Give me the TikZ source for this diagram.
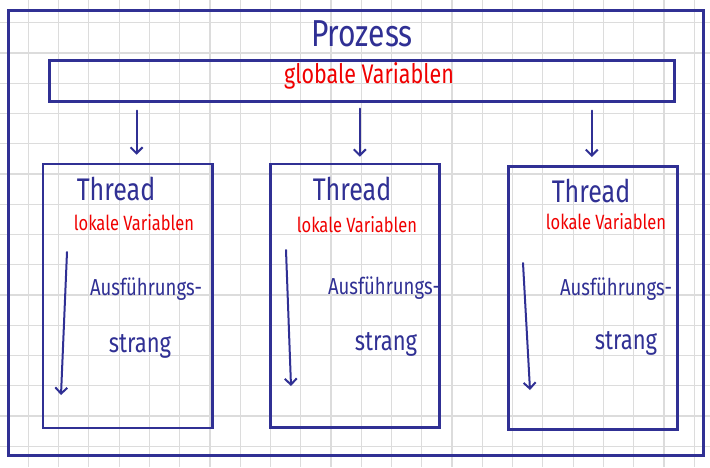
\documentclass[tikz,border=0pt]{standalone}
\usepackage{fontspec}
\usepackage{graphicx}
\setmainfont{Fira Sans}
\usetikzlibrary{arrows.meta}
\definecolor{pen}{RGB}{48,48,148}
\definecolor{redpen}{RGB}{240,0,0}
\definecolor{gridc}{RGB}{220,220,220}
\newcommand{\tallhw}[1]{\scalebox{1}[1.25]{#1}}
\tikzset{
  gridline/.style={draw=gridc, line width=1.2pt},
  frame/.style={draw=pen, line width=3pt},
  thread/.style={draw=pen, line width=2.6pt, rectangle, inner sep=0pt, anchor=north west},
  globbox/.style={draw=pen, line width=3pt, rectangle, inner sep=0pt, anchor=north west},
  arr/.style={draw=pen, line width=2pt, line cap=round, -{Straight Barb[length=6pt,width=12pt,line width=2pt]}},
  title/.style={text=pen, font=\fontsize{30}{30}\selectfont, inner sep=0pt},
  glob/.style={text=redpen, font=\fontsize{21.5}{21.5}\selectfont, inner sep=0pt},
  thr/.style={text=pen, font=\fontsize{25}{25}\selectfont, inner sep=0pt},
  loc/.style={text=redpen, font=\fontsize{16.5}{16.5}\selectfont, inner sep=0pt},
  aus/.style={text=pen, font=\fontsize{18.5}{18.5}\selectfont, inner sep=0pt},
  str/.style={text=pen, font=\fontsize{22}{22}\selectfont, inner sep=0pt},
}
\begin{document}
\begin{tikzpicture}[x=1pt,y=-1pt]
\useasboundingbox (0,0) rectangle (710,467);
\fill[white] (0,0) rectangle (710,467);
% grid
\foreach \i in {0,...,22} \draw[gridline] ({28.3+30.27*\i},0) -- ({28.3+30.27*\i},467);
\foreach \j in {0,...,14} \draw[gridline] (0,{22.7+30.25*\j}) -- (710,{22.7+30.25*\j});
% outer frame
\draw[frame] (8,10) rectangle (703,455.5);
\node[title] (proz) at (362,34) {\tallhw{Prozess}};
% global variables box
\node[globbox, minimum width=625pt, minimum height=41pt] (gv) at (48,58.5) {};
\node[glob] (gvt) at (369,76) {\tallhw{globale Variablen}};
% thread boxes
\node[thread, minimum width=169.5pt, minimum height=264pt] (t1) at (41.5,162.7) {};
\node[thread, minimum width=169pt, minimum height=263.3pt] (t2) at (269,162.7) {};
\node[thread, minimum width=169pt, minimum height=263pt] (t3) at (507,165) {};
% arrows from global box
\draw[arr, shorten <=8pt, shorten >=8pt] ([xshift=9pt]t1.north |- gv.south) -- ([xshift=9pt]t1.north);
\draw[arr, shorten <=6pt, shorten >=6pt] ([xshift=5pt]t2.north |- gv.south) -- ([xshift=5pt]t2.north);
\draw[arr, shorten <=8pt, shorten >=8pt] ([xshift=-1pt]t3.north |- gv.south) -- ([xshift=-1pt]t3.north);
% thread 1
\node[thr] (th1) at (116,189) {\tallhw{Thread}};
\node[loc] (lv1) at (134,223) {\tallhw{lokale Variablen}};
\node[aus] (a1) at (146,289) {\tallhw{Ausführungs-}};
\node[str] (s1) at (140,346) {\tallhw{strang}};
\coordinate (e1a) at (67,252);
\coordinate (e1b) at (61,395);
\draw[arr] (e1a) -- (e1b);
% thread 2
\node[thr] (th2) at (352,189) {\tallhw{Thread}};
\node[loc] (lv2) at (357,225) {\tallhw{lokale Variablen}};
\node[aus] (a2) at (384,288) {\tallhw{Ausführungs-}};
\node[str] (s2) at (386,344) {\tallhw{strang}};
\coordinate (e2a) at (286,250);
\coordinate (e2b) at (291,386);
\draw[arr] (e2a) -- (e2b);
% thread 3
\node[thr] (th3) at (591,191) {\tallhw{Thread}};
\node[loc] (lv3) at (606,222) {\tallhw{lokale Variablen}};
\node[aus] (a3) at (616,289) {\tallhw{Ausführungs-}};
\node[str] (s3) at (626,343) {\tallhw{strang}};
\coordinate (e3a) at (523,263);
\coordinate (e3b) at (530,390);
\draw[arr] (e3a) -- (e3b);
\end{tikzpicture}
\end{document}
